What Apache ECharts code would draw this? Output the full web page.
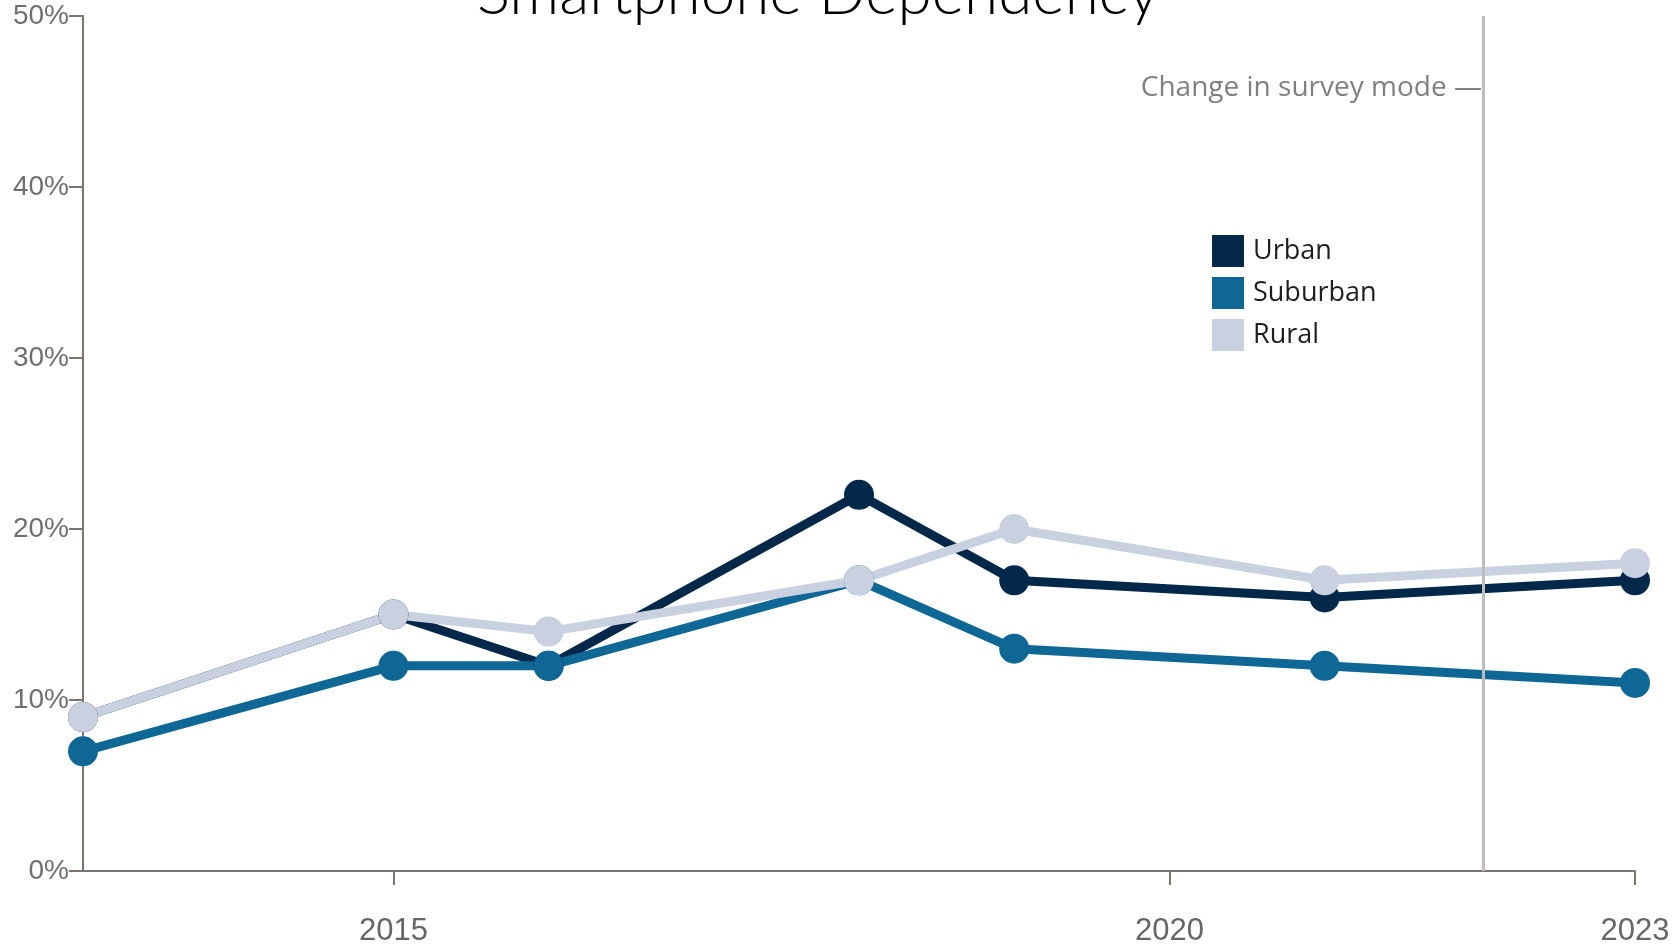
<!DOCTYPE html>
<html>
<head>
<meta charset="utf-8">
<title>Smartphone Dependency</title>
<script src="https://cdn.jsdelivr.net/npm/echarts@6/dist/echarts.min.js"></script>
<style>
  html, body { margin: 0; padding: 0; background: #fff; }
  #grafico { width: 1678px; height: 945px; }
</style>
</head>
<body>
<div id="grafico"></div>
<script>
// dados
const anos = [2013, 2015, 2016, 2018, 2019, 2021, 2023];
const urbano = [9, 15, 12, 22, 17, 16, 17];
const suburbano = [7, 12, 12, 17, 13, 12, 11];
const rural = [9, 15, 14, 17, 20, 17, 18];
const anosMarcados = [2015, 2020, 2023];
const anoMudancaPesquisa = 2022.02;

const cores = { urbano: '#03284a', suburbano: '#0e6795', rural: '#c9d0df' };

inicializarGrafico();

function montarPontos(valores) {
  return anos.map((ano, i) => [ano, valores[i]]);
}

function serieLinha(nome, valores, cor) {
  return {
    name: nome,
    type: 'line',
    data: montarPontos(valores),
    symbol: 'circle',
    symbolSize: 30,
    lineStyle: { color: cor, width: 9 },
    itemStyle: { color: cor },
    emphasis: { disabled: true },
    z: 3
  };
}

function inicializarGrafico() {
  var chartDom = document.getElementById('grafico');
  var myChart = echarts.init(chartDom);
  var eixoCor = '#7a7571';

  var option = {
    animation: false,
    grid: { left: 83, right: 43, top: 16, bottom: 74, outerBoundsMode: 'none' },
    legend: {
      data: ['Urban', 'Suburban', 'Rural'],
      orient: 'vertical',
      left: 1207,
      top: 230,
      icon: 'rect',
      itemWidth: 32,
      itemHeight: 32,
      itemGap: 10,
      selectedMode: false,
      textStyle: { fontFamily: 'Open Sans', fontSize: 27, color: '#1e1e1e', padding: [0, 0, 0, 4] }
    },
    xAxis: {
      type: 'value',
      min: 2013,
      max: 2023,
      splitLine: { show: false },
      axisLine: { lineStyle: { color: eixoCor, width: 2 } },
      axisTick: { show: true, customValues: anosMarcados, length: 14, lineStyle: { color: eixoCor, width: 2 } },
      axisLabel: {
        customValues: anosMarcados,
        formatter: v => String(v),
        margin: 45,
        fontFamily: 'Liberation Sans',
        fontSize: 31,
        color: '#666'
      }
    },
    yAxis: {
      type: 'value',
      min: 0,
      max: 50,
      interval: 10,
      splitLine: { show: false },
      axisLine: { show: true, lineStyle: { color: eixoCor, width: 2 } },
      axisTick: { show: true, length: 14, lineStyle: { color: eixoCor, width: 2 } },
      axisLabel: {
        formatter: '{value}%',
        margin: 14,
        fontFamily: 'Liberation Sans',
        fontSize: 28,
        color: '#6f6f6f'
      }
    },
    series: [
      {
        name: 'mudanca',
        type: 'line',
        data: [],
        z: 1,
        markLine: {
          silent: true,
          symbol: 'none',
          label: { show: false },
          lineStyle: { color: '#bdbdbd', width: 3, type: 'solid' },
          data: [{ xAxis: anoMudancaPesquisa }]
        }
      },
      serieLinha('Urban', urbano, cores.urbano),
      serieLinha('Suburban', suburbano, cores.suburbano),
      serieLinha('Rural', rural, cores.rural)
    ]
  };

  option && myChart.setOption(option);

  // anotacao e titulo, posicionados pela escala do grafico
  var pos = myChart.convertToPixel({ gridIndex: 0 }, [anoMudancaPesquisa, 45.8]);
  myChart.setOption({
    graphic: [
      {
        type: 'text',
        x: pos[0] - 1,
        y: pos[1],
        style: {
          text: 'Change in survey mode \u2014',
          align: 'right',
          verticalAlign: 'middle',
          font: '28px "Open Sans"',
          fill: '#808080'
        }
      },
      {
        type: 'text',
        x: 818,
        y: -6,
        style: {
          text: 'Smartphone Dependency',
          align: 'center',
          verticalAlign: 'middle',
          font: '300 62px Lato',
          fill: '#000'
        }
      }
    ]
  });
}
</script>
</body>
</html>
